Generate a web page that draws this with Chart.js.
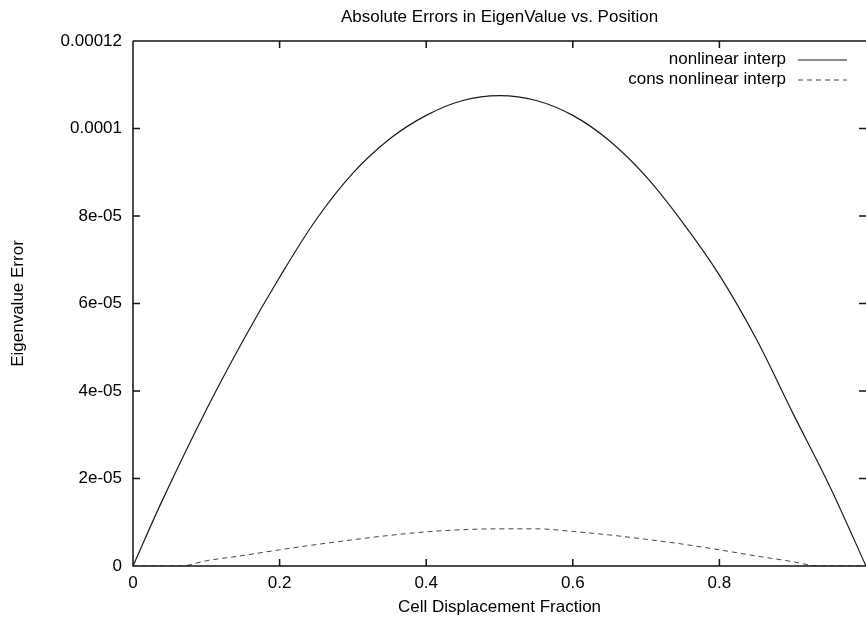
<!DOCTYPE html>
<html>
<head>
<meta charset="utf-8">
<script src="https://cdn.jsdelivr.net/npm/chart.js@4.4.1/dist/chart.umd.min.js"></script>
<style>
  html, body { margin: 0; padding: 0; background: #fff; }
  #wrap { width: 866px; height: 621px; position: relative; }
</style>
</head>
<body>
<div id="wrap"><canvas id="chart"></canvas></div>
<script>
// ===== DATA =====
const nonlinearX   = [0, 0.04, 0.1, 0.15, 0.2, 0.25, 0.3, 0.35, 0.4, 0.45, 0.5, 0.55, 0.6, 0.65, 0.7, 0.75, 0.8, 0.85, 0.9, 0.95, 1.0];
const nonlinearErr = [0, 1.5e-5, 3.57e-5, 5.15e-5, 6.6e-5, 7.92e-5, 8.98e-5, 9.76e-5, 10.3e-5, 10.64e-5, 10.75e-5,
                      10.64e-5, 10.3e-5, 9.72e-5, 8.9e-5, 7.85e-5, 6.65e-5, 5.2e-5, 3.5e-5, 1.84e-5, 0];

const consX   = [0, 0.035, 0.065, 0.1, 0.15, 0.2, 0.25, 0.3, 0.35, 0.4, 0.45, 0.5, 0.55, 0.6, 0.65, 0.7, 0.75, 0.8, 0.85, 0.9, 0.935, 0.97, 1.0];
const consErr = [0, 0, 0, 1.2e-6, 2.4e-6, 3.7e-6, 4.9e-6, 6.0e-6, 7.0e-6, 7.8e-6, 8.3e-6, 8.5e-6, 8.5e-6, 7.9e-6, 7.1e-6,
                 6.1e-6, 5.0e-6, 3.7e-6, 2.3e-6, 1.0e-6, 0, 0, 0];

const xTickLabels = ['0', '0.2', '0.4', '0.6', '0.8', ''];
const yTickLabels = ['0', '2e-05', '4e-05', '6e-05', '8e-05', '0.0001', '0.00012'];

const FONT = "'Liberation Sans', Arial, Helvetica, sans-serif";
Chart.defaults.font.family = FONT;
Chart.defaults.font.size = 17;
Chart.defaults.color = '#000';

const toPoints = (xs, ys) => xs.map((x, i) => ({ x, y: ys[i] }));

// gnuplot style frame, inward ticks and key
const gnuplotFrame = {
  id: 'gnuplotFrame',
  afterDraw(chart) {
    const { ctx, chartArea: a, scales } = chart;
    const xs = scales.x, ys = scales.y;
    const tick = 7;
    ctx.save();
    ctx.strokeStyle = '#111';
    ctx.lineWidth = 1.5;
    ctx.beginPath();
    ctx.moveTo(a.left, a.top); ctx.lineTo(a.right, a.top);
    ctx.moveTo(a.left, a.top); ctx.lineTo(a.left, a.bottom);
    ctx.lineTo(a.right, a.bottom);
    ctx.stroke();

    ctx.beginPath();
    xs.ticks.forEach(t => {
      if (t.value <= xs.min || t.value >= xs.max) return;
      const px = xs.getPixelForValue(t.value);
      ctx.moveTo(px, a.bottom); ctx.lineTo(px, a.bottom - tick);
      ctx.moveTo(px, a.top); ctx.lineTo(px, a.top + tick);
    });
    ys.ticks.forEach(t => {
      if (t.value <= ys.min || t.value >= ys.max) return;
      const py = ys.getPixelForValue(t.value);
      ctx.moveTo(a.left, py); ctx.lineTo(a.left + tick, py);
      ctx.moveTo(a.right, py); ctx.lineTo(a.right - tick, py);
    });
    ctx.stroke();

    // key: text right-aligned, sample line after it
    ctx.font = '17px ' + FONT;
    ctx.textAlign = 'right';
    ctx.textBaseline = 'middle';
    chart.data.datasets.forEach((ds, i) => {
      const y = a.top + 18 + i * 20;
      ctx.fillStyle = '#000';
      ctx.fillText(ds.label, a.right - 80, y);
      ctx.strokeStyle = ds.borderColor;
      ctx.lineWidth = ds.borderWidth;
      ctx.setLineDash(ds.borderDash || []);
      ctx.beginPath();
      ctx.moveTo(a.right - 68, y + 1);
      ctx.lineTo(a.right - 19, y + 1);
      ctx.stroke();
    });
    ctx.restore();
  }
};

new Chart(document.getElementById('chart'), {
  type: 'line',
  data: {
    datasets: [{
      label: 'nonlinear interp',
      data: toPoints(nonlinearX, nonlinearErr),
      borderColor: '#1a1a1a',
      borderWidth: 1.2,
      pointRadius: 0,
      tension: 0.35,
      fill: false,
    }, {
      label: 'cons nonlinear interp',
      data: toPoints(consX, consErr),
      borderColor: '#444',
      borderWidth: 1,
      borderDash: [5, 4],
      pointRadius: 0,
      cubicInterpolationMode: 'monotone',
      fill: false,
    }]
  },
  options: {
    responsive: true,
    maintainAspectRatio: false,
    animation: false,
    layout: { padding: 0 },
    plugins: {
      legend: { display: false },
      tooltip: { enabled: false },
      title: {
        display: true,
        fullSize: false,
        text: 'Absolute Errors in EigenValue vs. Position',
        font: { size: 17, weight: 'normal' },
        color: '#000',
        padding: { top: 7, bottom: 13.6 },
      }
    },
    scales: {
      x: {
        type: 'linear',
        min: 0,
        max: 1,
        afterFit: s => { s.height = 55; s.paddingLeft = 0; s.paddingRight = 0; },
        ticks: {
          stepSize: 0.2,
          padding: 7,
          maxRotation: 0,
          callback: (v, i) => xTickLabels[i] ?? '',
        },
        grid: { display: false, drawTicks: false },
        border: { display: false },
        title: {
          display: true,
          text: 'Cell Displacement Fraction',
          font: { size: 17 },
          padding: { top: 0, bottom: 3 },
        }
      },
      y: {
        min: 0,
        max: 0.00012,
        afterFit: s => { s.width = 133; s.paddingTop = 0; s.paddingBottom = 0; },
        ticks: {
          stepSize: 0.00002,
          padding: 11,
          callback: (v, i) => yTickLabels[i] ?? '',
        },
        grid: { display: false, drawTicks: false },
        border: { display: false },
        title: {
          display: true,
          text: 'Eigenvalue Error',
          font: { size: 17 },
          padding: { top: 8, bottom: 0 },
        }
      }
    }
  },
  plugins: [gnuplotFrame]
});
</script>
</body>
</html>
